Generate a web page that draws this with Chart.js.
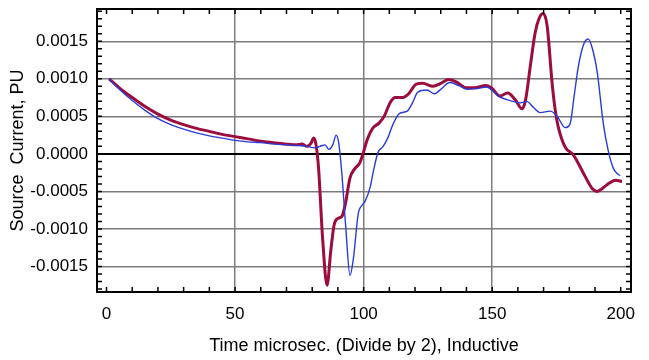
<!DOCTYPE html>
<html>
<head>
<meta charset="utf-8">
<script src="https://cdn.jsdelivr.net/npm/chart.js@4/dist/chart.umd.min.js"></script>
<style>
    html, body { margin: 0; padding: 0; background: #fff; }
</style>
</head>
<body>
<canvas id="myChart" width="649" height="360"></canvas>
<script>
// time axis (microsec / 2) and source current (PU) for both runs
const redTime = [
    1, 5, 10, 15, 20, 25, 30, 35, 40, 45, 50, 55, 60, 65, 70, 74, 76, 78, 79.5, 80.6,
    81.5, 82.5, 84, 85.8, 87.2, 88.5, 90, 91.6, 93, 94.7, 96.5, 98.5, 100, 101.4, 103.5,
    106, 108, 110.3, 112.3, 115, 117.5, 120.5, 123, 127, 130, 133, 136, 140, 143, 147.5,
    150, 153, 156, 159, 161.6, 163, 164.8, 166.7, 168.2, 169.8, 171.4, 173.3, 174.5,
    175.7, 178.4, 181.5, 185.4, 188.9, 190.8, 192.5, 194.7, 198, 200.5
];
const redCurrent = [
    0.00100, 0.00088, 0.00075, 0.00063, 0.00053, 0.00045, 0.00039, 0.00034, 0.00030, 0.00026,
    0.00023, 0.00020, 0.00017, 0.00015, 0.00013, 0.00012, 0.00013, 0.00010, 0.00014, 0.00021,
    0.00012, -0.00020, -0.00110, -0.00175, -0.00130, -0.00095, -0.00086, -0.00083, -0.00065,
    -0.00032, -0.00020, -0.00012, 0.00003, 0.00019, 0.00034, 0.00041, 0.00050, 0.00068,
    0.00075, 0.00075, 0.00080, 0.00093, 0.00094, 0.00090, 0.00094, 0.00099, 0.00096, 0.00088,
    0.00088, 0.00091, 0.00087, 0.00077, 0.00081, 0.00072, 0.00060, 0.00072, 0.00116, 0.00161,
    0.00180, 0.00187, 0.00170, 0.00095, 0.00059, 0.00036, 0.00009, -0.00001, -0.00025,
    -0.00046, -0.00050, -0.00047, -0.00041, -0.00035, -0.00037
];

const blueTime = [
    1, 5, 10, 15, 20, 25, 30, 35, 40, 45, 50, 55, 60, 65, 70, 75, 78, 81, 83, 85, 86.5,
    88, 89.3, 90.3, 91.5, 93, 94.7, 96, 97.9, 99.5, 100.6, 102.5, 104, 105.6, 107.6, 109.5,
    111.5, 114, 117, 119, 121, 124.7, 127.5, 130, 133.6, 137, 140.3, 144, 148, 150.5, 153,
    157, 161, 163.5, 166, 168.7, 172.6, 175.3, 178.4, 180.3, 182, 183.5, 185.5, 187.3, 189,
    190.9, 193.2, 195.1, 197.1, 198.6, 199.8
];
const blueCurrent = [
    0.00100, 0.00086, 0.00071, 0.00058, 0.00047, 0.00039, 0.00033, 0.00028, 0.00024, 0.00021,
    0.00018, 0.00016, 0.00015, 0.00013, 0.00012, 0.00011, 0.00010, 0.00008, 0.00010, 0.00012,
    0.00006, 0.00012, 0.00025, 0.00015, -0.00025, -0.00095, -0.00162, -0.00140, -0.00080,
    -0.00068, -0.00063, -0.00045, -0.00020, 0.00002, 0.00010, 0.00022, 0.00040, 0.00054,
    0.00057, 0.00068, 0.00082, 0.00085, 0.00080, 0.00086, 0.00095, 0.00091, 0.00086, 0.00087,
    0.00089, 0.00083, 0.00076, 0.00071, 0.00068, 0.00070, 0.00062, 0.00055, 0.00057, 0.00050,
    0.00035, 0.00040, 0.00080, 0.00116, 0.00145, 0.00153, 0.00140, 0.00108, 0.00041, 0.00005,
    -0.00019, -0.00026, -0.00029
];

const xTicks = [0, 50, 100, 150, 200];
const yTicks = [-0.0015, -0.0010, -0.0005, 0, 0.0005, 0.0010, 0.0015];

const FONT = 'Liberation Sans, Arial, sans-serif';
const GRID_COLOR = '#7c7c7c';

function toPoints (xs, ys) {
    return xs.map((x, i) => ({ x, y: ys[i] }));
}

// frame + small inward ticks on all four sides
const framePlugin = {
    id: 'frame',
    afterDatasetsDraw (chart) {
        const { ctx, chartArea: { left, right, top, bottom }, scales: { x, y } } = chart;
        const len = 5;

        ctx.save();
        ctx.strokeStyle = '#000';
        ctx.lineWidth = 1.5;
        ctx.beginPath();

        for (let t = xTicks[0]; t <= xTicks[xTicks.length - 1]; t += 10) {
            const px = x.getPixelForValue(t);
            ctx.moveTo(px, bottom);
            ctx.lineTo(px, bottom - len);
            ctx.moveTo(px, top);
            ctx.lineTo(px, top + len);
        }

        for (let i = -20; i <= 20; i++) {
            const py = y.getPixelForValue(i * 0.0001);
            if (py <= top || py >= bottom) continue;
            ctx.moveTo(left, py);
            ctx.lineTo(left + len, py);
            ctx.moveTo(right, py);
            ctx.lineTo(right - len, py);
        }
        ctx.stroke();

        ctx.lineWidth = 2;
        ctx.strokeRect(left, top, right - left, bottom - top);
        ctx.restore();
    }
};

const ctx = document.getElementById('myChart');

new Chart(ctx, {
    type: 'line',
    data: {
        datasets: [
            {
                label: 'Blue run',
                data: toPoints(blueTime, blueCurrent),
                borderColor: '#2b3bd6',
                borderWidth: 1.4,
                pointRadius: 0,
                cubicInterpolationMode: 'monotone',
                fill: false
            },
            {
                label: 'Red run',
                data: toPoints(redTime, redCurrent),
                borderColor: '#9c0c3c',
                borderWidth: 3,
                pointRadius: 0,
                cubicInterpolationMode: 'monotone',
                fill: false
            }
        ]
    },
    options: {
        responsive: false,
        animation: false,
        layout: {
            padding: { left: 0, right: 18, top: 9, bottom: 0 }
        },
        plugins: {
            legend: { display: false },
            tooltip: { enabled: false }
        },
        scales: {
            x: {
                type: 'linear',
                min: -3.7,
                max: 204,
                afterBuildTicks: scale => {
                    scale.ticks = xTicks.map(value => ({ value }));
                },
                afterFit: scale => {
                    scale.height = 68;
                    scale.paddingLeft = 0;
                    scale.paddingRight = 0;
                },
                grid: {
                    drawTicks: false,
                    color: c => (c.tick && c.tick.value > 0 && c.tick.value < 200) ? GRID_COLOR : 'rgba(0,0,0,0)',
                    lineWidth: 1.5
                },
                border: { display: false },
                ticks: {
                    color: '#000',
                    font: { family: FONT, size: 17 },
                    padding: 12,
                    maxRotation: 0,
                    autoSkip: false
                },
                title: {
                    display: true,
                    text: 'Time microsec. (Divide by 2), Inductive',
                    color: '#000',
                    font: { family: FONT, size: 18 },
                    padding: { top: 0, bottom: 3 }
                }
            },
            y: {
                min: -0.00184,
                max: 0.00193,
                afterBuildTicks: scale => {
                    scale.ticks = yTicks.map(value => ({ value }));
                },
                afterFit: scale => {
                    scale.width = 97;
                    scale.paddingTop = 0;
                    scale.paddingBottom = 0;
                },
                grid: {
                    drawTicks: false,
                    color: c => (c.tick && c.tick.value === 0) ? '#000' : GRID_COLOR,
                    lineWidth: c => (c.tick && c.tick.value === 0) ? 2 : 1.5
                },
                border: { display: false },
                ticks: {
                    color: '#000',
                    font: { family: FONT, size: 17 },
                    padding: 9,
                    callback: value => value.toFixed(4)
                },
                title: {
                    display: true,
                    text: 'Source  Current, PU',
                    color: '#000',
                    font: { family: FONT, size: 18 },
                    padding: { top: 7, bottom: 0 }
                }
            }
        }
    },
    plugins: [framePlugin]
});
</script>
</body>
</html>
